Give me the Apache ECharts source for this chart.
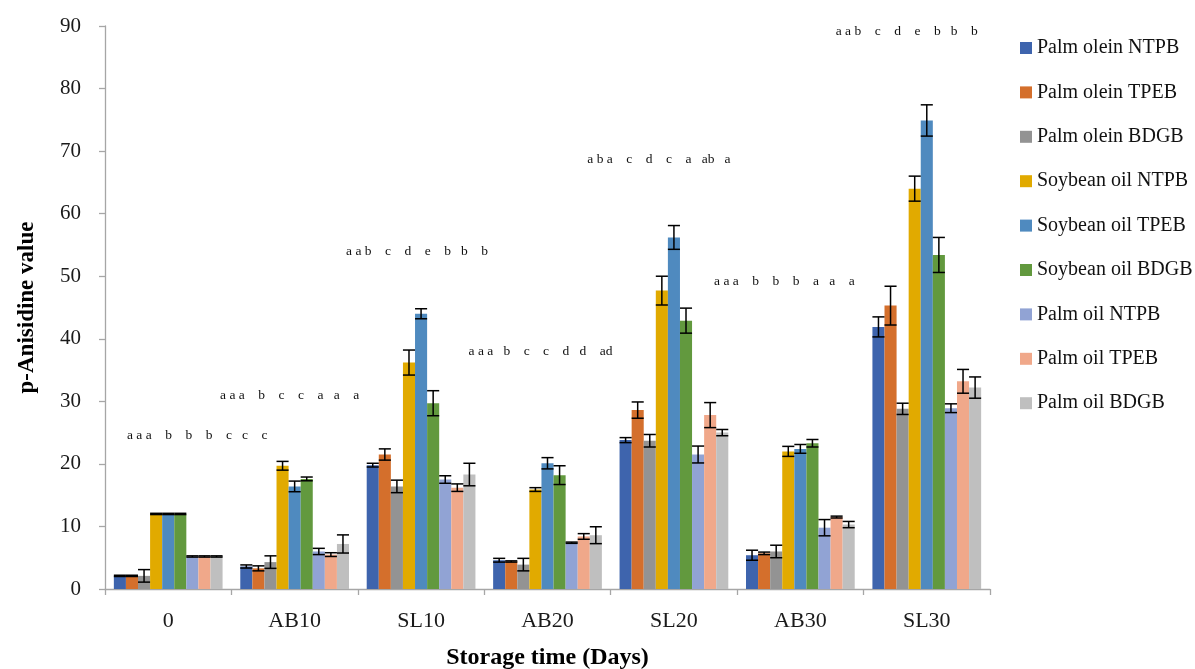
<!DOCTYPE html>
<html>
<head>
<meta charset="utf-8">
<script src="https://cdn.jsdelivr.net/npm/echarts@6/dist/echarts.min.js"></script>
<style>
  html, body { margin: 0; padding: 0; background: #fff; }
  #chart { width: 1195px; height: 669px; }
</style>
</head>
<body>
<div id="chart"></div>
<script>
// ---------------- DATA ----------------
const categories = ['0', 'AB10', 'SL10', 'AB20', 'SL20', 'AB30', 'SL30'];
const seriesNames = [
  'Palm olein NTPB', 'Palm olein TPEB', 'Palm olein BDGB',
  'Soybean oil NTPB', 'Soybean oil TPEB', 'Soybean oil BDGB',
  'Palm oil NTPB', 'Palm oil TPEB', 'Palm oil BDGB'
];
const yTicks = [0, 10, 20, 30, 40, 50, 60, 70, 80, 90];

const palmOleinNTPB   = [2.1, 3.6, 19.8, 4.6, 23.8, 5.4, 41.9];
const palmOleinTPEB   = [2.1, 3.3, 21.5, 4.4, 28.6, 5.7, 45.3];
const palmOleinBDGB   = [2.1, 4.3, 16.4, 3.9, 23.7, 6.0, 28.8];
const soybeanNTPB     = [12.0, 19.7, 36.2, 15.9, 47.7, 22.0, 64.0];
const soybeanTPEB     = [12.0, 16.4, 44.0, 20.1, 56.2, 22.4, 74.9];
const soybeanBDGB     = [12.0, 17.6, 29.7, 18.2, 42.9, 23.3, 53.4];
const palmOilNTPB     = [5.2, 6.0, 17.5, 7.4, 21.5, 9.8, 28.9];
const palmOilTPEB     = [5.2, 5.5, 16.2, 8.4, 27.8, 11.5, 33.2];
const palmOilBDGB     = [5.2, 7.2, 18.3, 8.6, 25.0, 10.3, 32.2];

const palmOleinNTPBErr = [0.1, 0.25, 0.3, 0.3, 0.4, 0.8, 1.6];
const palmOleinTPEBErr = [0.1, 0.4, 0.9, 0.1, 1.3, 0.2, 3.1];
const palmOleinBDGBErr = [1.0, 1.0, 1.0, 1.0, 1.0, 1.0, 0.9];
const soybeanNTPBErr   = [0.1, 0.7, 2.0, 0.3, 2.3, 0.8, 2.0];
const soybeanTPEBErr   = [0.1, 0.85, 0.8, 0.9, 1.9, 0.7, 2.5];
const soybeanBDGBErr   = [0.1, 0.3, 2.0, 1.5, 2.0, 0.6, 2.8];
const palmOilNTPBErr   = [0.1, 0.5, 0.6, 0.1, 1.35, 1.3, 0.7];
const palmOilTPEBErr   = [0.1, 0.3, 0.6, 0.45, 2.0, 0.15, 1.9];
const palmOilBDGBErr   = [0.1, 1.45, 1.8, 1.35, 0.5, 0.5, 1.7];

// significance letters above each group and their level (in y-axis units)
const letterGroups = [
  'a a a    b    b    b    c   c    c',
  'a a a    b    c    c    a   a    a',
  'a a b    c    d    e    b   b    b',
  'a a a   b    c    c    d   d    ad',
  'a b a    c    d    c    a   ab   a',
  'a a a    b    b    b    a   a    a',
  'a a b    c    d    e    b   b    b'
];
const letterLevels = [24.6, 31.0, 53.9, 37.9, 68.6, 49.2, 89.1];

// ---------------- STYLE ----------------
const values = [palmOleinNTPB, palmOleinTPEB, palmOleinBDGB, soybeanNTPB, soybeanTPEB, soybeanBDGB, palmOilNTPB, palmOilTPEB, palmOilBDGB];
const errors = [palmOleinNTPBErr, palmOleinTPEBErr, palmOleinBDGBErr, soybeanNTPBErr, soybeanTPEBErr, soybeanBDGBErr, palmOilNTPBErr, palmOilTPEBErr, palmOilBDGBErr];
const colors = ['#3E64AD', '#D46F2C', '#939393', '#E1AA00', '#4F8ABF', '#62993E', '#91A3D4', '#F0A88A', '#BFBFBF'];
const letterShift = [29, -5, -4, -7, -15, -16, -20]; // px, horizontal text shift
const FONT = "'Liberation Serif', 'DejaVu Serif', serif";
const CAT_GAP = 0.14;
const N = seriesNames.length;

const barSeries = seriesNames.map((name, s) => ({
  name: name,
  type: 'bar',
  data: values[s],
  barGap: '0%',
  barCategoryGap: (CAT_GAP * 100) + '%',
  itemStyle: { color: colors[s] },
  z: 2
}));

const errSeries = seriesNames.map((name, s) => ({
  type: 'custom',
  name: name + ' err',
  z: 5,
  silent: true,
  data: categories.map((c, i) => [i, values[s][i], errors[s][i]]),
  renderItem: function (params, api) {
    const cat = api.value(0), v = api.value(1), e = api.value(2);
    const band = api.size([1, 0])[0];
    const bw = band * (1 - CAT_GAP) / N;
    const cx = api.coord([cat, 0])[0] + (s - (N - 1) / 2) * bw;
    const yt = api.coord([cat, v + e])[1];
    const yb = api.coord([cat, v - e])[1];
    const h = bw / 2;
    const st = { stroke: '#000', lineWidth: 1.5 };
    return {
      type: 'group',
      children: [
        { type: 'line', shape: { x1: cx, y1: yt, x2: cx, y2: yb }, style: st },
        { type: 'line', shape: { x1: cx - h, y1: yt, x2: cx + h, y2: yt }, style: st },
        { type: 'line', shape: { x1: cx - h, y1: yb, x2: cx + h, y2: yb }, style: st }
      ]
    };
  }
}));

const letterSeries = {
  type: 'custom',
  name: 'letters',
  z: 6,
  silent: true,
  data: categories.map((c, i) => [i, letterLevels[i]]),
  renderItem: function (params, api) {
    const i = api.value(0);
    const p = api.coord([i, api.value(1)]);
    return {
      type: 'text',
      x: p[0] + letterShift[i],
      y: p[1],
      style: {
        text: letterGroups[i],
        font: "13.5px " + FONT,
        fill: '#111',
        align: 'center',
        verticalAlign: 'middle'
      }
    };
  }
};

const chart = echarts.init(document.getElementById('chart'), null, { renderer: 'canvas' });
chart.setOption({
  backgroundColor: '#ffffff',
  animation: false,
  grid: { left: 105, right: 205, top: 26, bottom: 80, containLabel: false, outerBoundsMode: 'none' },
  legend: {
    data: seriesNames,
    orient: 'vertical',
    left: 1015,
    top: 33,
    icon: 'rect',
    itemWidth: 12,
    itemHeight: 12,
    itemGap: 24.4,
    textStyle: { fontFamily: FONT, fontSize: 20, color: '#111', lineHeight: 20 }
  },
  xAxis: {
    type: 'category',
    data: categories,
    name: 'Storage time (Days)',
    nameLocation: 'middle',
    nameGap: 57,
    nameTextStyle: { fontFamily: FONT, fontSize: 24, fontWeight: 'bold', color: '#000' },
    axisLine: { lineStyle: { color: '#A6A6A6', width: 1.3 } },
    axisTick: { show: true, length: 6, lineStyle: { color: '#A6A6A6', width: 1.3 } },
    axisLabel: { fontFamily: FONT, fontSize: 22, color: '#1a1a1a', margin: 21 },
    splitLine: { show: false }
  },
  yAxis: {
    type: 'value',
    min: yTicks[0],
    max: yTicks[yTicks.length - 1],
    interval: yTicks[1] - yTicks[0],
    name: 'p-Anisidine value',
    nameLocation: 'middle',
    nameGap: 66,
    nameTextStyle: { fontFamily: FONT, fontSize: 23, fontWeight: 'bold', color: '#000' },
    axisLine: { show: true, lineStyle: { color: '#A6A6A6', width: 1.3 } },
    axisTick: { show: true, length: 6, lineStyle: { color: '#A6A6A6', width: 1.3 } },
    axisLabel: { fontFamily: FONT, fontSize: 21, color: '#1a1a1a', margin: 24 },
    splitLine: { show: false }
  },
  series: [...barSeries, ...errSeries, letterSeries]
});
</script>
</body>
</html>
